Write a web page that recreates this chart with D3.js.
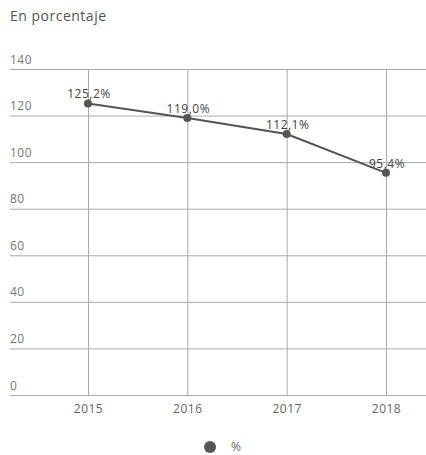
<!DOCTYPE html>
<html>
<head>
<meta charset="utf-8">
<script src="https://cdn.jsdelivr.net/npm/d3@7"></script>
<style>
  body { margin: 0; background: #fff; }
  text { font-family: "Open Sans", sans-serif; letter-spacing: 0.5px; }
</style>
</head>
<body>
<svg id="chart" width="426" height="455"></svg>
<script>
// datos
const years = ["2015", "2016", "2017", "2018"];
const values = [125.2, 119.0, 112.1, 95.4];
const labels = ["125,2%", "119,0%", "112,1%", "95,4%"];
const yTicks = [0, 20, 40, 60, 80, 100, 120, 140];
const seriesName = "%";

const svg = d3.select("#chart");
const grey = "#555";

// escalas
const x = d3.scalePoint().domain(years).range([88, 386]);
const y = d3.scaleLinear().domain([0, 140]).range([395, 69]);

svg.append("text")
  .attr("x", 10).attr("y", 21)
  .attr("fill", grey)
  .attr("font-size", 14)
  .text("En porcentaje");

// rejilla horizontal + etiquetas del eje Y
const gy = svg.append("g")
  .attr("transform", "translate(10,0)")
  .call(d3.axisRight(y).tickValues(yTicks).tickSize(416).tickFormat(d3.format("d")));
gy.select(".domain").remove();
gy.selectAll(".tick line").attr("stroke", "#aaa").attr("stroke-width", 1);
gy.selectAll(".tick text")
  .attr("x", 0).attr("dy", -6)
  .attr("text-anchor", "start")
  .attr("fill", "#777")
  .attr("font-size", 12);

// rejilla vertical + años
const gx = svg.append("g")
  .attr("transform", "translate(0,395)")
  .call(d3.axisBottom(x).tickSize(-326).tickPadding(8));
gx.select(".domain").remove();
gx.selectAll(".tick line").attr("stroke", "#aaa").attr("stroke-width", 1);
gx.selectAll(".tick text").attr("fill", "#666").attr("font-size", 12).attr("dy", "0.85em");

// línea
const line = d3.line().x((d, i) => x(years[i])).y(d => y(d));
svg.append("path")
  .datum(values)
  .attr("d", line)
  .attr("fill", "none")
  .attr("stroke", grey)
  .attr("stroke-width", 2);

svg.append("g").selectAll("circle")
  .data(values)
  .enter().append("circle")
  .attr("cx", (d, i) => x(years[i]))
  .attr("cy", d => y(d))
  .attr("r", 4)
  .attr("fill", grey);

svg.append("g").selectAll("text")
  .data(values)
  .enter().append("text")
  .attr("x", (d, i) => x(years[i]) + 1)
  .attr("y", d => y(d) - 5)
  .attr("text-anchor", "middle")
  .attr("fill", "#444")
  .attr("font-size", 12)
  .text((d, i) => labels[i]);

// leyenda
svg.append("circle")
  .attr("cx", 210).attr("cy", 447).attr("r", 6)
  .attr("fill", grey);
svg.append("text")
  .attr("x", 231).attr("y", 451)
  .attr("fill", "#666")
  .attr("font-size", 12)
  .text(seriesName);
</script>
</body>
</html>
